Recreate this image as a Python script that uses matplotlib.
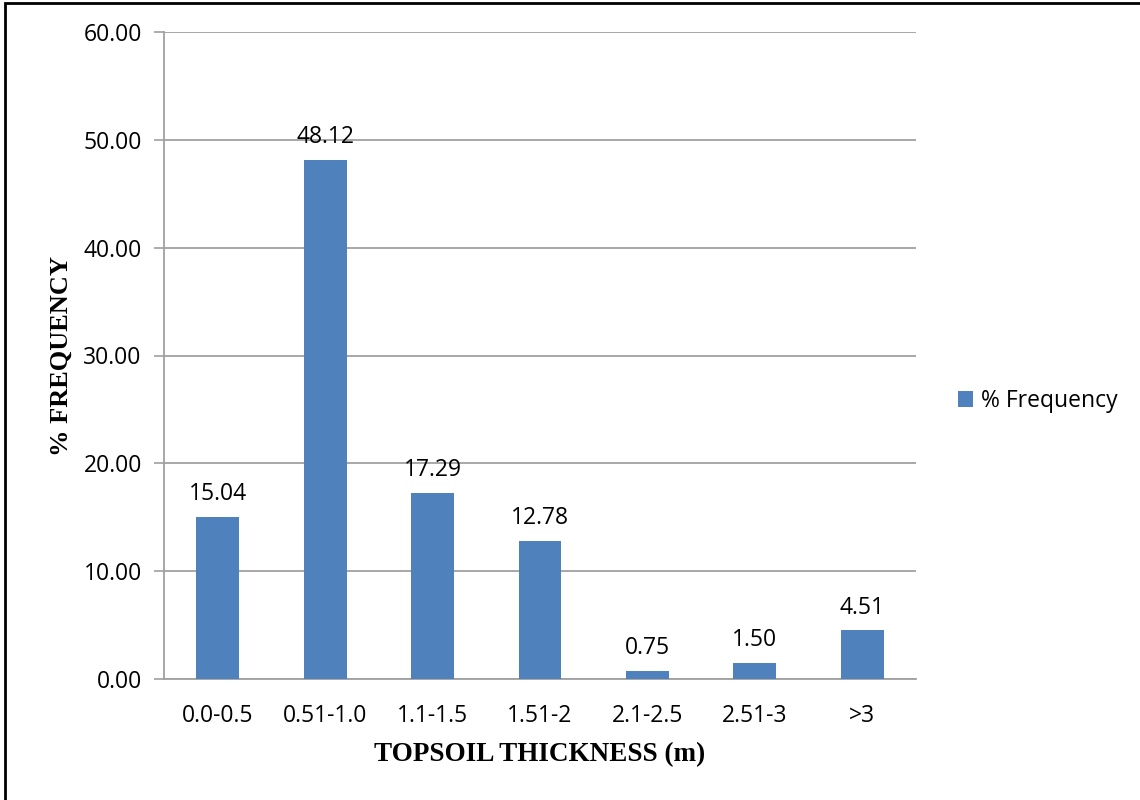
import matplotlib.pyplot as plt
from matplotlib.patches import Rectangle

categories = ['0.0-0.5', '0.51-1.0', '1.1-1.5', '1.51-2', '2.1-2.5', '2.51-3', '>3']
frequency = [15.04, 48.12, 17.29, 12.78, 0.75, 1.50, 4.51]
yticks = [0, 10, 20, 30, 40, 50, 60]

bar_color = '#4F81BD'
grid_color = '#A0A0A0'
tick_font = 'Open Sans'
fs = 16.5

fig = plt.figure(figsize=(11.4, 8), dpi=100)
ax = fig.add_axes([164/1140, 1 - 679/800, (916 - 164)/1140, (679 - 32)/800])

x = range(len(categories))
bars = ax.bar(x, frequency, width=0.4, color=bar_color, label='% Frequency', zorder=3)
for b, v in zip(bars, frequency):
    ax.text(b.get_x() + b.get_width()/2, v + 1.0, f'{v:.2f}', ha='center', va='bottom',
            fontsize=fs, family=tick_font, color='black')

ax.set_xlim(-0.5, len(categories) - 0.5)
ax.set_ylim(0, 60)
ax.set_yticks(yticks)
ax.set_yticklabels([f'{t:.2f}' for t in yticks], family=tick_font, fontsize=fs)
ax.set_xticks(list(x))
ax.set_xticklabels(categories, family=tick_font, fontsize=fs)
ax.tick_params(axis='x', length=0, pad=18)
ax.tick_params(axis='y', length=7, width=1.2, color=grid_color, pad=9)
ax.yaxis.grid(True, color=grid_color, linewidth=1.3, zorder=0)
for s in ['top', 'right']:
    ax.spines[s].set_visible(False)
for s in ['left', 'bottom']:
    ax.spines[s].set_color(grid_color)
    ax.spines[s].set_linewidth(1.3)

ax.set_xlabel('TOPSOIL THICKNESS (m)', family='Liberation Serif', fontweight='bold',
              fontsize=19.5, labelpad=10)
ax.set_ylabel('% FREQUENCY', family='Liberation Serif', fontweight='bold',
              fontsize=19, labelpad=8)

fig.legend(handles=[bars], labels=['% Frequency'], loc='center left',
           bbox_to_anchor=(937/1140, 1 - 401/800), frameon=False,
           prop={'family': tick_font, 'size': fs}, handlelength=0.65,
           handleheight=0.65, handletextpad=0.35)

fig.patches.append(Rectangle((5/1140, -0.01), 1.2, 1 - 3/800 + 0.01, transform=fig.transFigure,
                             fill=False, edgecolor='black', linewidth=2))

fig.savefig('out.png', dpi=100)
